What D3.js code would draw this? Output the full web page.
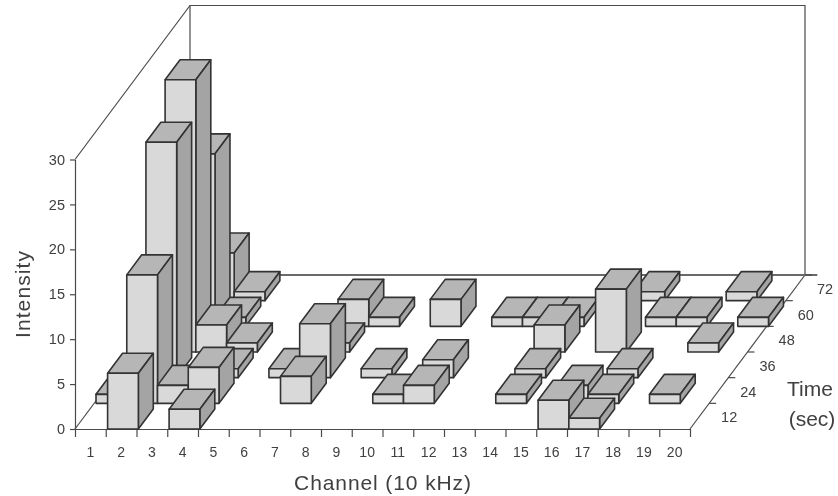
<!DOCTYPE html>
<html>
<head>
<meta charset="utf-8">
<script src="https://cdn.jsdelivr.net/npm/d3@7"></script>
<style>
  html, body { margin: 0; padding: 0; background: #fff; }
  svg { display: block; filter: blur(0.5px); }
  text { font-family: "Liberation Sans", Arial, sans-serif; fill: #404040; }
</style>
</head>
<body>
<script>
var channels = d3.range(1, 21);
var timeLabels = [12, 24, 36, 48, 60, 72];
var intensityTicks = [0, 5, 10, 15, 20, 25, 30];

// intensity per channel, one array per time row
var time12 = [0, 6.2, 0, 2.2, 0, 0, 0, 0, 0, 0, 0, 0, 0, 0, 0, 3.2, 1.2, 0, 0, 0];
var time24 = [1, 14.3, 2, 4, 0, 0, 3, 0, 0, 1, 2, 0, 0, 1, 0, 2, 1, 0, 1, 0];
var time36 = [0, 26.2, 0, 1, 0, 1, 6, 0, 1, 0, 2, 0, 0, 1, 0, 0, 1, 0, 0, 0];
var time48 = [0, 30.3, 3, 1, 0, 0, 1, 0, 0, 0, 0, 0, 0, 3, 0, 7, 0, 0, 1, 0];
var time60 = [0, 19.2, 1, 0, 0, 0, 3, 1, 0, 3, 0, 1, 1, 1, 0, 0, 1, 1, 0, 1];
var time72 = [0, 5.3, 1, 0, 0, 0, 0, 0, 0, 0, 0, 0, 0, 0, 0, 1, 0, 0, 1, 0];
var rows = [time12, time24, time36, time48, time60, time72];

var svg = d3.select('body')
  .append('svg')
  .attr('width', 838)
  .attr('height', 496);

// front edge of the floor, and how far the depth axis leans
var xScale = d3.scaleLinear().domain([0, 20]).range([75, 690]);
var xBand = d3.scaleBand().domain(channels).range([75, 690]);
var yScale = d3.scaleLinear().domain([0, 30]).range([429, 159.5]);
var depthX = d3.scaleLinear().domain([0, 6]).range([0, 115]);
var depthY = d3.scaleLinear().domain([0, 6]).range([0, -154]);

// channel position, time row, intensity -> screen point
function project(c, r, v) {
  return [xScale(c) + depthX(r), yScale(v) + depthY(r)];
}

var line = d3.line();
var wallColor = '#4a4a4a';

//walls and floor
var walls = [
  [project(0, 0, 30), project(0, 6, 30), project(20, 6, 30), project(20, 6, 0)],
  [project(0, 0, 0), project(0, 6, 0)],
  [project(20, 0, 0), project(20, 6, 0)],
  [project(0, 6, 0), project(0, 6, 30)]
];
svg.append('g')
  .selectAll('path')
  .data(walls)
  .enter().append('path')
  .attr('d', function (d) { return line(d); })
  .attr('fill', 'none')
  .attr('stroke', wallColor)
  .attr('stroke-width', 1.2);

svg.append('path')
  .attr('d', line([project(0, 6, 0), project(20.4, 6, 0)]))
  .attr('fill', 'none')
  .attr('stroke', '#6a6a6a')
  .attr('stroke-width', 1.8);

//y axis
svg.append('g')
  .attr('transform', 'translate(75,0)')
  .call(d3.axisLeft(yScale).tickValues(intensityTicks).tickSize(5).tickPadding(5).tickSizeOuter(0))
  .call(function (g) {
    g.selectAll('path,line').attr('stroke', wallColor).attr('stroke-width', 1.2);
    g.selectAll('text').style('font-size', '14.5px').attr('fill', '#404040');
  });

//x axis: ticks on the channel edges, labels in between
svg.append('g')
  .attr('transform', 'translate(0,429)')
  .call(d3.axisBottom(xScale).tickValues(d3.range(0, 21)).tickFormat('').tickSize(8).tickSizeOuter(0))
  .call(function (g) {
    g.selectAll('path,line').attr('stroke', wallColor).attr('stroke-width', 1.2);
  });
svg.append('g')
  .attr('transform', 'translate(0,429)')
  .call(d3.axisBottom(xBand).tickSize(0).tickPadding(18))
  .call(function (g) {
    g.select('.domain').remove();
    g.selectAll('text').style('font-size', '14px').attr('fill', '#404040');
  });

//time axis
var timeAxis = svg.append('g');
timeLabels.forEach(function (t, i) {
  var p = project(20, i + 1, 0);
  timeAxis.append('line')
    .attr('x1', p[0]).attr('y1', p[1])
    .attr('x2', p[0] + 7).attr('y2', p[1])
    .attr('stroke', wallColor)
    .attr('stroke-width', 1.2);
  timeAxis.append('text')
    .attr('x', p[0] + 20)
    .attr('y', p[1] + 19)
    .attr('text-anchor', 'middle')
    .style('font-size', '14.5px')
    .text(t);
});

//axis titles
svg.append('text')
  .attr('x', 383)
  .attr('y', 490)
  .attr('text-anchor', 'middle')
  .style('font-size', '21px')
  .style('letter-spacing', '0.9px')
  .text('Channel (10 kHz)');

svg.append('text')
  .attr('transform', 'translate(30,294) rotate(-90)')
  .attr('text-anchor', 'middle')
  .style('font-size', '21px')
  .style('letter-spacing', '1.1px')
  .text('Intensity');

svg.append('text')
  .attr('x', 810)
  .attr('y', 396)
  .attr('text-anchor', 'middle')
  .style('font-size', '21px')
  .text('Time');

svg.append('text')
  .attr('x', 812)
  .attr('y', 426)
  .attr('text-anchor', 'middle')
  .style('font-size', '21px')
  .text('(sec)');

//bars, back row first and left to right so nearer ones cover the rest
var inset = 0.06;
var barDepth = 0.78;
var barG = svg.append('g');

d3.range(5, -1, -1).forEach(function (r) {
  rows[r].forEach(function (v, c) {
    if (!v) return;
    var x0 = c + inset, x1 = c + 1 + inset, z0 = r, z1 = r + barDepth;
    var faces = [
      { fill: '#b6b6b6', pts: [project(x0, z0, v), project(x1, z0, v), project(x1, z1, v), project(x0, z1, v)] },
      { fill: '#a4a4a4', pts: [project(x1, z0, 0), project(x1, z1, 0), project(x1, z1, v), project(x1, z0, v)] },
      { fill: '#d9d9d9', pts: [project(x0, z0, 0), project(x1, z0, 0), project(x1, z0, v), project(x0, z0, v)] }
    ];
    barG.append('g')
      .selectAll('path')
      .data(faces)
      .enter().append('path')
      .attr('d', function (d) { return line(d.pts) + 'Z'; })
      .attr('fill', function (d) { return d.fill; })
      .attr('stroke', '#333')
      .attr('stroke-width', 1.6)
      .attr('stroke-linejoin', 'round');
  });
});
</script>
</body>
</html>
